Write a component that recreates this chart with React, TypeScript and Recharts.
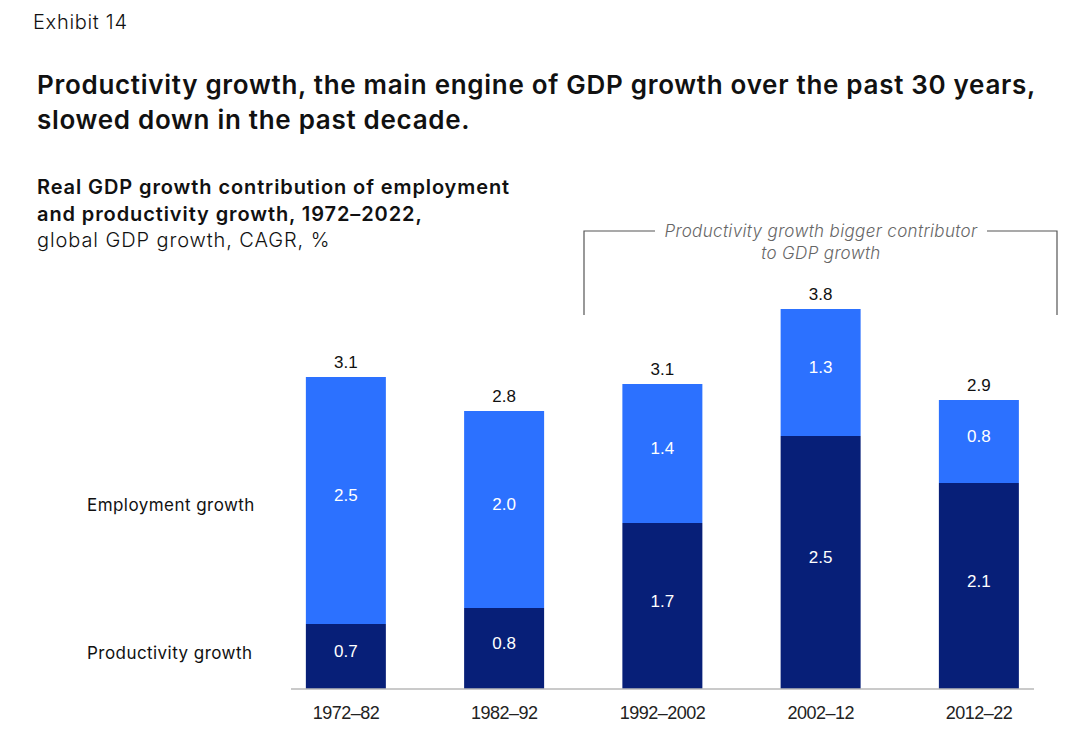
import { Bar, BarChart, LabelList, XAxis, YAxis } from "recharts";

const periods = ["1972–82", "1982–92", "1992–2002", "2002–12", "2012–22"];
const productivity = [0.65, 0.81, 1.66, 2.53, 2.06];
const employment = [2.47, 1.97, 1.39, 1.27, 0.83];
const productivityLabels = ["0.7", "0.8", "1.7", "2.5", "2.1"];
const employmentLabels = ["2.5", "2.0", "1.4", "1.3", "0.8"];
const totalLabels = ["3.1", "2.8", "3.1", "3.8", "2.9"];

const LIGHT = "#2c71ff";
const DARK = "#071f78";
const TEXT_FONT = "Inter, 'Noto Sans', sans-serif";
const NUM_FONT = "'Liberation Sans', Arial, sans-serif";

const data = periods.map((p, i) => ({
  i,
  period: p,
  productivity: productivity[i],
  employment: employment[i],
  prodLabel: productivityLabels[i],
  empLabel: employmentLabels[i],
  totalLabel: totalLabels[i],
}));

function insideLabel(props: any) {
  const { x, y, width, height, value } = props;
  return (
    <text
      x={x + width / 2}
      y={y + height / 2 - 5}
      fill="#fff"
      fontSize={17}
      fontFamily={NUM_FONT}
      textAnchor="middle"
      dominantBaseline="central"
    >
      {value}
    </text>
  );
}

function totalLabel(props: any) {
  const { x, y, width, value } = props;
  return (
    <text
      x={x + width / 2}
      y={y - 15}
      fill="#111"
      fontSize={17}
      fontFamily={NUM_FONT}
      textAnchor="middle"
      dominantBaseline="central"
    >
      {value}
    </text>
  );
}

const abs = (left: number, top: number, extra: any = {}) => ({
  position: "absolute" as const,
  left,
  top,
  whiteSpace: "nowrap" as const,
  ...extra,
});

export default function App() {
  return (
    <div
      style={{
        position: "absolute",
        left: 0,
        top: 0,
        width: 1073,
        height: 741,
        background: "#fff",
        fontFamily: TEXT_FONT,
        color: "#111",
        overflow: "hidden",
      }}
    >
      <div style={abs(33, 10, { fontSize: 20, fontWeight: 300, letterSpacing: 0.7 })}>Exhibit 14</div>
      <div style={abs(37, 67, { fontSize: 26, fontWeight: 600, lineHeight: "35px", letterSpacing: 0.7 })}>
        Productivity growth, the main engine of GDP growth over the past 30 years,
        <br />
        slowed down in the past decade.
      </div>
      <div style={abs(37, 174, { fontSize: 20, lineHeight: "26.5px", letterSpacing: 0.9 })}>
        <span style={{ fontWeight: 600 }}>Real GDP growth contribution of employment</span>
        <br />
        <span style={{ fontWeight: 600 }}>and productivity growth, 1972–2022,</span>
        <br />
        <span style={{ fontWeight: 300 }}>global GDP growth, CAGR, %</span>
      </div>

      <div style={abs(87, 495, { fontSize: 17, letterSpacing: 0.45 })}>Employment growth</div>
      <div style={abs(87, 643, { fontSize: 17, letterSpacing: 0.45 })}>Productivity growth</div>

      <svg width={1073} height={741} style={{ position: "absolute", left: 0, top: 0 }}>
        <g stroke="#555" strokeWidth={1.2} fill="none">
          <polyline points="584,315 584,231 655,231" />
          <polyline points="987,231 1057,231 1057,315" />
        </g>
        <g
          textAnchor="middle"
          fontSize={17}
          fontStyle="italic"
          fontWeight={300}
          fill="#666"
          fontFamily={TEXT_FONT}
          letterSpacing={0.35}
        >
          <text x={821} y={237}>Productivity growth bigger contributor</text>
          <text x={821} y={259}>to GDP growth</text>
        </g>
      </svg>

      <div style={{ position: "absolute", left: 0, top: 0 }}>
        <BarChart
          width={1073}
          height={741}
          data={data}
          margin={{ top: 289, right: 39, bottom: 22, left: 291 }}
        >
          <XAxis
            dataKey="i"
            type="number"
            domain={[-0.3475, 4.3475]}
            ticks={[0, 1, 2, 3, 4]}
            tickFormatter={(v: number) => periods[v]}
            height={30}
            axisLine={{ stroke: "#b8b8b8", strokeWidth: 1.5 }}
            tickLine={false}
            tickSize={0}
            tickMargin={17}
            tick={{ fill: "#222", fontSize: 18, fontFamily: NUM_FONT, letterSpacing: -0.5 }}
            allowDataOverflow
          />
          <YAxis hide domain={[0, 4]} />
          <Bar dataKey="productivity" stackId="a" fill={DARK} barSize={80} isAnimationActive={false}>
            <LabelList dataKey="prodLabel" content={insideLabel} />
          </Bar>
          <Bar dataKey="employment" stackId="a" fill={LIGHT} barSize={80} isAnimationActive={false}>
            <LabelList dataKey="empLabel" content={insideLabel} />
            <LabelList dataKey="totalLabel" content={totalLabel} />
          </Bar>
        </BarChart>
      </div>
    </div>
  );
}
